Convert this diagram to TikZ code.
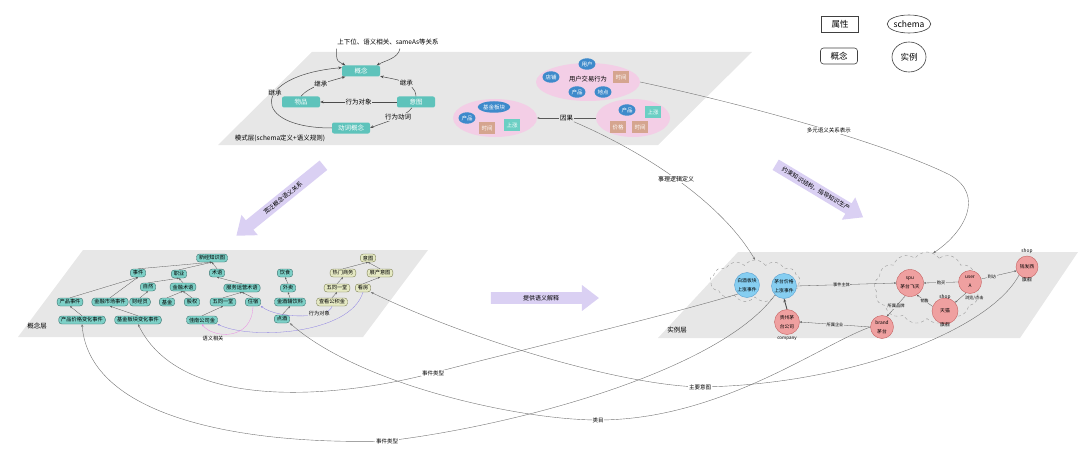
\documentclass[tikz,border=0pt]{standalone}
\usepackage{fontspec}
\setmainfont{Noto Sans CJK SC}
\usetikzlibrary{shapes.geometric, shapes.symbols, shapes.arrows, arrows.meta, positioning, calc}

\definecolor{layergray}{HTML}{E7E7E7}
\definecolor{schemateal}{HTML}{5EC3BB}
\definecolor{conceptteal}{HTML}{7DD0C7}
\definecolor{conceptline}{HTML}{3C7470}
\definecolor{intentyellow}{HTML}{E5E9C3}
\definecolor{intentline}{HTML}{7E8054}
\definecolor{blobpink}{HTML}{F3CEE6}
\definecolor{entityblue}{HTML}{3E8ACB}
\definecolor{attrtan}{HTML}{D5A58F}
\definecolor{riseteal}{HTML}{6CCFC4}
\definecolor{lavender}{HTML}{DAD0F3}
\definecolor{eventblue}{HTML}{86CEF1}
\definecolor{eventline}{HTML}{5A9FCF}
\definecolor{thingpink}{HTML}{EFA0A0}
\definecolor{thingline}{HTML}{C46262}
\definecolor{objviolet}{HTML}{8B7FE3}
\definecolor{relpink}{HTML}{E98BE3}

\begin{document}
\begin{tikzpicture}[x=1pt, y=-1pt,
        legend/.style={draw=black!75, line width=0.6pt, font=\fontsize{8.5}{9}\selectfont, minimum width=37pt, minimum height=16pt, inner sep=1pt},
        schema/.style={rectangle, fill=schemateal, rounded corners=2pt, text=white, font=\fontsize{6.5}{7}\selectfont, minimum width=38pt, minimum height=11pt, inner sep=1pt},
        concept/.style={rectangle, rounded corners=3pt, draw=conceptline, line width=0.4pt, fill=conceptteal, font=\fontsize{5.2}{6}\selectfont, inner xsep=2.5pt, inner ysep=1.2pt, minimum height=8pt},
        intent/.style={concept, draw=intentline, fill=intentyellow},
        blob/.style={ellipse, fill=blobpink, minimum height=38pt},
        entity/.style={ellipse, fill=entityblue, text=white, font=\fontsize{5.5}{6}\selectfont, inner sep=0.5pt, minimum width=15pt, minimum height=11.5pt},
        attr/.style={rectangle, fill=attrtan, text=white, font=\fontsize{5.5}{6}\selectfont, minimum width=16pt, minimum height=12pt, inner sep=0.5pt},
        rise/.style={attr, fill=riseteal},
        event/.style={circle, draw=eventline, line width=0.4pt, fill=eventblue, minimum size=25pt, inner sep=0pt, align=center, font=\fontsize{4.8}{9}\selectfont},
        thing/.style={event, draw=thingline, fill=thingpink},
        cloudarea/.style={cloud, cloud puffs=13, cloud puff arc=110, aspect=2, draw=gray!80, dashed, line width=0.4pt},
        bigarrow/.style={single arrow, fill=lavender, single arrow head extend=7pt, single arrow tip angle=75, font=\fontsize{6}{6}\selectfont, inner sep=3pt},
        link/.style={-{Stealth[length=3.5pt, width=2.8pt]}, draw=black!70, line width=0.5pt},
        isa/.style={-{Stealth[length=2.2pt, width=1.8pt]}, draw=black!65, line width=0.3pt},
        longlink/.style={-{Stealth[length=2.8pt, width=2.2pt]}, draw=black!55, line width=0.4pt},
        tag/.style={fill=layergray, inner sep=0.8pt, font=\fontsize{6.5}{7}\selectfont},
        note/.style={fill=white, inner sep=0.8pt, font=\fontsize{5.5}{6}\selectfont},
        smalltag/.style={fill=layergray, inner sep=0.5pt, font=\fontsize{4.2}{5}\selectfont},
        layername/.style={font=\fontsize{6.5}{7}\selectfont}]

    \useasboundingbox (0,0) rectangle (1080,452);

    % Legend
    \node[legend, rectangle] (legattr) at (840,24) {属性};
    \node[legend, ellipse, minimum width=43pt, minimum height=18pt, inner sep=0pt] (legschema) at (909,24) {schema};
    \node[legend, rectangle, rounded corners=3pt] (legconcept) at (839,56) {概念};
    \node[legend, ellipse, minimum width=34pt, minimum height=30pt, inner sep=0pt] (leginst) at (909,57) {实例};

    % Schema layer
    \fill[layergray] (312,52) -- (752,52) -- (658,145) -- (218,145) -- cycle;
    \node[layername] (schemaname) at (280,138) {模式层(schema定义+语义规则)};
    \node[schema] (sconcept) at (361,71) {概念};
    \node[schema] (sitem) at (301,102) {物品};
    \node[schema] (sintent) at (416,102) {意图};
    \node[schema] (sverb) at (351,128) {动词概念};
    \node[font=\fontsize{6.5}{7}\selectfont] (relnote) at (388,42) {上下位、语义相关、sameAs等关系};

    \draw[link] ([xshift=3pt]relnote.south west) .. controls +(-1,14) and +(-7,-4) .. (sconcept.160);
    \draw[link] ([xshift=12pt]relnote.south) .. controls +(-2,10) and +(9,-5) .. (sconcept.20);
    \draw[link] (sitem.north) .. controls +(8,-10) and +(-14,4) .. (sconcept.200) node[midway, tag] {继承};
    \draw[link] (sintent.north) .. controls +(-1,-16) and +(12,3) .. (sconcept.-15) node[pos=0.4, tag] {继承};
    \draw[link] (sverb.west) .. controls (250,128) and (250,76) .. (sconcept.170) node[pos=0.6, tag] {继承};
    \draw[link] (sintent.west) -- (sitem.east) node[midway, tag] {行为对象};
    \draw[link] (sintent.235) .. controls +(-6,9) and +(12,-5) .. (sverb.east) node[pos=0.4, tag] {行为动词};

    % Multi-argument relations
    \node[blob, minimum width=104pt] (trade) at (588,82) {};
    \node[font=\fontsize{6.3}{7}\selectfont] (tradename) at (588,79) {用户交易行为};
    \node[entity] (tuser) at (587,64) {用户};
    \node[entity] (tshop) at (551,77) {店铺};
    \node[attr] (ttime) at (621,77) {时间};
    \node[entity] (tproduct) at (577,92) {产品};
    \node[entity] (tplace) at (603,92) {地点};

    \node[blob, minimum width=84pt] (fund) at (495,118) {};
    \node[entity, minimum width=32pt] (fsector) at (494,107) {基金板块};
    \node[entity] (fproduct) at (467,118) {产品};
    \node[attr] (ftime) at (487,128) {时间};
    \node[rise] (frise) at (512,125) {上涨};

    \node[blob, minimum width=74pt] (price) at (633,118) {};
    \node[entity] (pproduct) at (627,110) {产品};
    \node[rise] (prise) at (653,112) {上涨};
    \node[attr] (pprice) at (618,127) {价格};
    \node[attr] (ptime) at (640,127) {时间};

    \draw[isa] (price.west) -- (fund.east) node[midway, tag] (cause) {因果};

    % Concept layer
    \fill[layergray] (83,250) -- (428,250) -- (363,337) -- (18,337) -- cycle;
    \node[layername] (conceptname) at (37,326) {概念层};
    \node[concept] (croot) at (212,258) {新经知识图};
    \node[concept] (cevent) at (138,273) {事件};
    \node[concept] (cjob) at (179,274) {职业};
    \node[concept] (cterm) at (217,273) {术语};
    \node[concept] (cself) at (148,287) {自然};
    \node[concept] (cfinterm) at (183,287) {金融术语};
    \node[concept] (cprodev) at (70,302) {产品事件};
    \node[concept] (cmarket) at (110,302) {金融市场事件};
    \node[concept] (cstaff) at (140,302) {财经员};
    \node[concept] (cfund) at (167,302) {基金};
    \node[concept] (cstock) at (192,302) {股权};
    \node[concept] (cfive) at (223,302) {五同一堂};
    \node[concept] (cpricechg) at (82,320) {产品价格变化事件};
    \node[concept] (csectorchg) at (138,320) {基金板块变化事件};
    \node[concept] (cgold) at (202,320) {佳南公司金};
    \node[concept] (cservice) at (242,288) {服务运营术语};
    \node[concept] (cstay) at (253,302) {住宿};
    \node[concept] (cdiet) at (285,273) {饮食};
    \node[concept] (ctakeout) at (288,288) {外卖};
    \node[concept] (cdrinks) at (290,302) {金酒辅饮料};
    \node[concept] (cliquor) at (282,319) {点酒};

    \node[intent] (iroot) at (368,258) {意图};
    \node[intent] (ibiz) at (343,273) {热门商务};
    \node[intent] (ihouse) at (380,273) {展产意图};
    \node[intent] (ifive) at (337,288) {五同一堂};
    \node[intent] (ivisit) at (363,288) {看房};
    \node[intent] (icheck) at (332,302) {查看公积金};

    \draw[isa] (cevent.north) -- (croot.south);
    \draw[isa] (cjob.north) -- (croot.south);
    \draw[isa] (cterm.north) -- (croot.south);
    \draw[isa] (cprodev.north) -- (cevent.south);
    \draw[isa] (cmarket.north) -- (cevent.south);
    \draw[isa] (cself.north) -- (cjob.south);
    \draw[isa] (cfinterm.north) -- (cjob.south);
    \draw[isa] (cstaff.north) -- (cself.south);
    \draw[isa] (cfund.north) -- (cfinterm.south);
    \draw[isa] (cstock.north) -- (cfinterm.south);
    \draw[isa] (cservice.north) -- (cterm.south);
    \draw[isa] (cfive.north) -- (cservice.south);
    \draw[isa] (cstay.north) -- (cservice.south);
    \draw[isa] (cgold.north) -- (cfive.south);
    \draw[isa] (cpricechg.north) -- (cprodev.south);
    \draw[isa] (csectorchg.north) -- (cmarket.south);
    \draw[isa] (ctakeout.north) -- (cdiet.south);
    \draw[isa] (cdrinks.north) -- (ctakeout.south);
    \draw[isa] (cliquor.north) -- (cdrinks.south);
    \draw[isa] (ibiz.north) -- (iroot.south);
    \draw[isa] (ihouse.north) -- (iroot.south);
    \draw[isa] (ifive.north) -- (ibiz.south);
    \draw[isa] (ivisit.north) -- (ihouse.south);
    \draw[isa] (icheck.north) -- (ifive.south);

    \draw[isa, draw=objviolet] (icheck.south) .. controls (330,318) and (280,320) .. (cstay.south east) node[pos=0.3, smalltag, font=\fontsize{5.2}{6}\selectfont] {行为对象};
    \draw[isa, draw=objviolet] (ivisit.south) .. controls (350,335) and (250,340) .. (cgold.south east);
    \draw[isa, draw=relpink] (cstay.south) .. controls (252,342) and (212,338) .. (cgold.south);
    \node[font=\fontsize{5.2}{6}\selectfont] (simnote) at (213,339) {语义相关};

    % Instance layer
    \fill[layergray] (738,252) -- (1078,252) -- (1020,338) -- (658,338) -- cycle;
    \node[layername] (instname) at (677,330) {实例层};
    \node[cloudarea, minimum width=90pt, minimum height=42pt] (lcloud) at (755,281) {};
    \node[cloudarea, minimum width=106pt, minimum height=72pt] (rcloud) at (927,288) {};

    \node[event] (ebaijiu) at (747,285) {白酒板块\\上涨事件};
    \node[event] (eprice) at (784,286) {茅台价格\\上涨事件};
    \node[thing, label={[font=\fontsize{4.5}{5}\selectfont, label distance=-1.5pt]below:company}] (company) at (787,322) {贵州茅\\台公司};
    \node[thing, minimum size=27pt] (spu) at (910,283) {spu\\茅台飞天};
    \node[thing, minimum size=23pt] (usera) at (970,282) {user\\A};
    \node[thing, minimum size=26pt,
          label={[font=\fontsize{4.8}{5}\selectfont, label distance=-5pt]above:shop},
          label={[font=\fontsize{4.8}{5}\selectfont, label distance=-5pt]below:旗舰}] (tmall) at (945,311) {天猫};
    \node[thing, minimum size=23pt] (brand) at (882,327) {brand\\茅台};
    \node[thing, minimum size=22pt,
          label={[font=\fontsize{4.8}{5}\selectfont, label distance=-1pt]above:shop},
          label={[font=\fontsize{4.8}{5}\selectfont, label distance=-4pt]below:旗舰}] (shop) at (1027,267) {钱发西};

    \draw[link, line width=0.9pt] (company.north) -- (eprice.south);
    \draw[isa] (eprice.east) -- (spu.west) node[pos=0.45, smalltag] {事件主体};
    \draw[isa] (usera.west) -- (spu.east) node[midway, smalltag] {购买};
    \draw[isa] (usera.15) -- (shop.200) node[pos=0.3, smalltag] {到访};
    \draw[isa] (usera.250) -- (tmall.40) node[midway, right=1pt, font=\fontsize{4.2}{5}\selectfont] {浏览/点击};
    \draw[isa] (tmall.160) -- (spu.-60) node[midway, smalltag] {销售};
    \draw[isa] (spu.-110) -- (brand.65) node[midway, smalltag] {所属品牌};
    \draw[isa] (brand.west) -- (company.east) node[midway, smalltag] {所属企业};

    % Cross-layer arrows
    \node[bigarrow, shape border rotate=180, rotate=39, minimum height=112pt] (widerel) at (283,198) {宽泛概念语义关系};
    \node[bigarrow, rotate=-31, minimum height=102pt] (guide) at (816,189) {约束知识结构，指导知识生产};
    \node[bigarrow, minimum height=108pt] (explain) at (541,298) {提供语义解释};

    % Long links
    \draw[longlink] (trade.east) .. controls (780,112) and (900,150) .. (950,175) node[pos=0.5, note] {多元语义关系表示} .. controls (985,195) and (965,232) .. (rcloud.80);
    \draw[longlink] (cause.south east) .. controls (640,150) and (720,200) .. (lcloud.north) node[pos=0.5, note, font=\fontsize{6}{6}\selectfont] {事理逻辑定义};
    \draw[longlink] (ebaijiu.south west) .. controls (650,320) and (520,350) .. (433,373) node[note] {事件类型} .. controls (330,400) and (180,410) .. (csectorchg.south);
    \draw[longlink] (eprice.south west) .. controls (720,370) and (520,425) .. (387,441) node[note] {事件类型} .. controls (250,445) and (90,420) .. (cpricechg.south);
    \draw[longlink] (brand.west) .. controls (820,345) and (720,420) .. (598,420) node[note] {类目} .. controls (520,420) and (360,385) .. (cliquor.south east);
    \draw[longlink] (shop.south west) .. controls (990,330) and (850,385) .. (700,387) node[note] {主要意图} .. controls (620,385) and (470,340) .. (ivisit.south east);

\end{tikzpicture}
\end{document}
